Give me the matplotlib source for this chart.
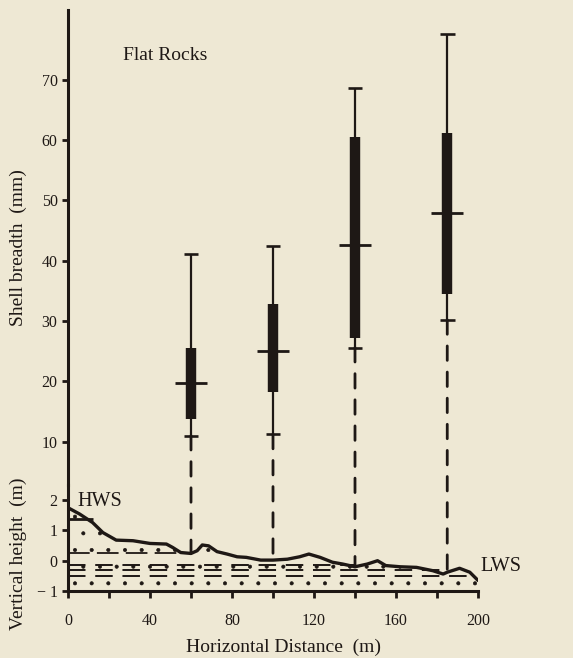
import numpy as np
import matplotlib.pyplot as plt
from matplotlib.patches import ConnectionPatch

plt.rcParams['font.family'] = ['Liberation Serif', 'DejaVu Serif']
plt.rcParams['hatch.linewidth'] = 0.45

bg = '#eee8d4'
ink = '#1e1815'

# shell breadth boxes (mm) at horizontal distance (m)
box_x = [60, 100, 140, 185]
whis_lo = [11.0, 11.2, 25.6, 30.2]
q1 = [13.7, 18.2, 27.2, 34.5]
med = [19.8, 25.0, 42.6, 47.9]
q3 = [25.6, 32.8, 60.5, 61.2]
whis_hi = [41.1, 42.4, 68.7, 77.7]

# shore profile (m)
prof_x = [0, 5.7, 12, 17, 23.5, 31.7, 40, 48, 51, 55, 60, 63, 65.5, 68.6, 72.7,
          77.6, 82.5, 87, 94, 100, 107, 113, 117.5, 123, 129, 134, 140, 146,
          151, 155, 162, 170, 178, 183, 185, 191, 196, 200]
prof_y = [1.75, 1.54, 1.26, 0.93, 0.68, 0.66, 0.57, 0.55, 0.44, 0.27, 0.24, 0.33,
          0.52, 0.49, 0.30, 0.22, 0.13, 0.11, 0.02, 0.02, 0.05, 0.13, 0.22, 0.11,
          -0.05, -0.11, -0.20, -0.11, 0.0, -0.16, -0.20, -0.22, -0.33, -0.44,
          -0.38, -0.25, -0.38, -0.65]

# tide levels (m) and how far they run
tide_y = [0.24, -0.13, -0.30, -0.52]
tide_end = [58, 140, 185, 196]
hws_y = 1.39

fig = plt.figure(figsize=(5.73, 6.58), dpi=100, facecolor=bg)
W, H = 573, 658
left, right = 68 / W, 478 / W
ax1 = fig.add_axes([left, 1 - 485 / H, right - left, 475 / H])
ax2 = fig.add_axes([left, 1 - 591 / H, right - left, 106 / H])

for ax in (ax1, ax2):
    ax.set_facecolor('none')
    ax.set_xlim(0, 200)
    for s in ('top', 'right'):
        ax.spines[s].set_visible(False)
    ax.spines['left'].set_linewidth(2.2)
    ax.spines['left'].set_color(ink)
    ax.tick_params(axis='y', length=4.5, width=2, color=ink, labelsize=11.5,
                   labelcolor=ink, pad=3)

ax1.set_ylim(2.8, 81.6)
ax1.spines['bottom'].set_visible(False)
ax1.set_xticks([])
ax1.set_yticks([10, 20, 30, 40, 50, 60, 70])

ax2.set_ylim(-1, 2.5)
ax2.set_yticks([-1, 0, 1, 2])
ax2.set_yticklabels(['\u2212 1', '0', '1', '2'])
ax2.spines['bottom'].set_linewidth(2.2)
ax2.spines['bottom'].set_color(ink)
ax2.set_xticks(np.arange(0, 201, 20))
ax2.set_xticklabels(['0', '', '40', '', '80', '', '120', '', '160', '', '200'])
ax2.tick_params(axis='x', length=5, width=2, color=ink, labelsize=11.5,
                labelcolor=ink, pad=11)

# boxes
ax1.vlines(box_x, whis_lo, whis_hi, color=ink, lw=1.6)
ax1.vlines(box_x, q1, q3, color=ink, lw=7.5)
ax1.hlines(whis_lo + whis_hi, [x - 3.6 for x in box_x * 2],
           [x + 3.6 for x in box_x * 2], color=ink, lw=1.9)
ax1.hlines(med, [x - 7.8 for x in box_x], [x + 7.8 for x in box_x],
           color=ink, lw=2)

# shore profile with stipple
ax2.fill_between(prof_x, prof_y, -1, facecolor='none', edgecolor=ink,
                 hatch='.', linewidth=0)
ax2.plot(prof_x, prof_y, color=ink, lw=2.4, solid_capstyle='round')
ax2.hlines(hws_y, 0, 12, color=ink, lw=2)
ax2.hlines(tide_y[0], 0, tide_end[0], color=ink, lw=1.3,
           linestyles=[(0, (12, 4))])
for yv, xe in zip(tide_y[1:], tide_end[1:]):
    ax2.hlines(yv, 0, xe, color=ink, lw=1.4, linestyles=[(0, (9, 5))])

# dashed drop lines from each box to the shore
for x, lo in zip(box_x, whis_lo):
    ground = np.interp(x, prof_x, prof_y)
    con = ConnectionPatch(xyA=(x, lo), coordsA=ax1.transData,
                          xyB=(x, ground), coordsB=ax2.transData,
                          color=ink, lw=2.0, linestyle=(0, (5.2, 4.2)))
    fig.add_artist(con)

ax1.text(0.134, 0.895, 'Flat Rocks', transform=ax1.transAxes, fontsize=14,
         color=ink, va='baseline')
ax2.text(4.4, 1.81, 'HWS', fontsize=14.5, color=ink, va='baseline')
ax2.text(201, -0.33, 'LWS', fontsize=14.5, color=ink, va='baseline',
         clip_on=False)

ax1.set_ylabel('Shell breadth  (mm)', fontsize=14, color=ink)
ax1.yaxis.set_label_coords(-0.1, 0.5)
ax2.set_ylabel('Vertical height  (m)', fontsize=14, color=ink)
ax2.yaxis.set_label_coords(-0.1, 0.35)
fig.text(284 / W, 1 - 652 / H, 'Horizontal Distance  (m)', fontsize=14,
         color=ink, ha='center', va='baseline')

plt.savefig('out.png', dpi=100, facecolor=bg)
